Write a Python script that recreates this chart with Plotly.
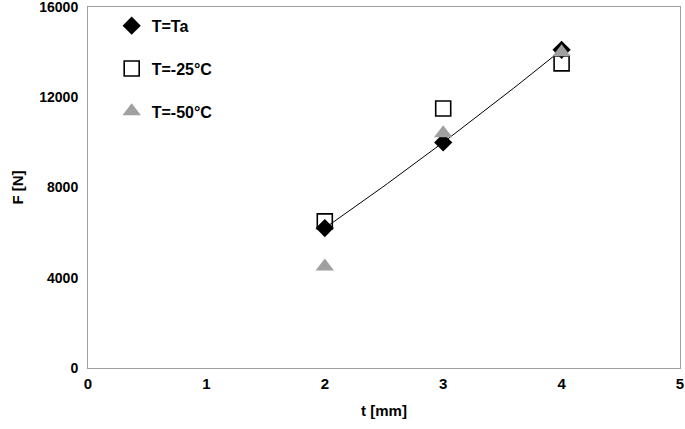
import numpy as np
import plotly.graph_objects as go

t_mm = [2, 3, 4]
F_Ta = [6200, 10000, 14100]
F_m25 = [6500, 11500, 13500]
F_m50 = [4500, 10400, 14000]

x_ticks = [0, 1, 2, 3, 4, 5]
y_ticks = [0, 4000, 8000, 12000, 16000]
y_tick_labels = ["0", "4000", "8000", "12000", "16000"]

coef = np.polyfit(t_mm, F_Ta, 2)
xt = np.linspace(min(t_mm), max(t_mm), 50)
yt = np.polyval(coef, xt)

font = "Liberation Sans, Arial, sans-serif"

fig = go.Figure()
fig.add_trace(go.Scatter(x=xt, y=yt, mode="lines", line=dict(color="black", width=1),
                         showlegend=False, hoverinfo="skip"))
fig.add_trace(go.Scatter(x=t_mm, y=F_Ta, mode="markers", name="T=Ta", legendgroup="a",
                         marker=dict(symbol="diamond", size=14, color="black")))
fig.add_trace(go.Scatter(x=t_mm, y=F_m25, mode="markers", name="T=-25°C", legendgroup="b",
                         marker=dict(symbol="square-open", size=15, color="black",
                                     line=dict(width=1.6, color="black"))))
fig.add_trace(go.Scatter(x=t_mm, y=F_m50, mode="markers", name="T=-50°C", legendgroup="c",
                         marker=dict(symbol="triangle-up", size=16, color="#a0a0a0")))

fig.update_layout(
    width=685, height=429,
    margin=dict(l=88, r=5, t=7, b=61, autoexpand=False),
    paper_bgcolor="white", plot_bgcolor="white",
    font=dict(family=font, size=14, color="black"),
    legend=dict(x=0.04, y=0.995, xanchor="left", yanchor="top",
                bgcolor="rgba(0,0,0,0)", tracegroupgap=19,
                font=dict(family=font, size=16, color="black", weight="bold")),
    xaxis=dict(range=[0, 5], tickvals=x_ticks, showgrid=False, zeroline=False,
               showline=True, linecolor="#a0a0a0", linewidth=1, mirror=True,
               ticks="", automargin=False, ticklabeloverflow="allow", ticklabelstandoff=2,
               tickfont=dict(family=font, size=15, weight="bold"),
               title=dict(text="<b>t [mm]</b>", font=dict(family=font, size=15), standoff=14)),
    yaxis=dict(range=[0, 16000], tickvals=y_ticks, ticktext=y_tick_labels,
               showgrid=False, zeroline=False,
               showline=True, linecolor="#a0a0a0", linewidth=1, mirror=True,
               ticks="", automargin=False, ticklabeloverflow="allow", ticklabelstandoff=6,
               tickfont=dict(family=font, size=14, weight="bold"),
               title=dict(text="<b>F [N]</b>", font=dict(family=font, size=15), standoff=12)),
)

fig.write_html("out.html", config={"displayModeBar": False},
               post_script="document.body.style.margin='0';")
